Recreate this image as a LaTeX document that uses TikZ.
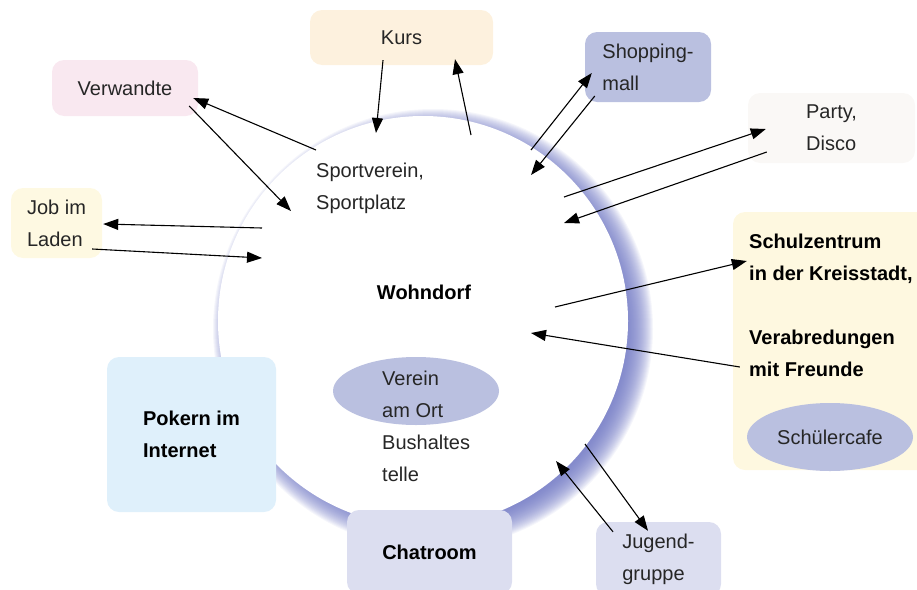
\documentclass[tikz,border=0pt]{standalone}
\usepackage{fontspec}
\setmainfont{Liberation Sans}
\usetikzlibrary{positioning,calc,shapes.geometric,arrows.meta}
\pgfdeclarelayer{background}
\pgfsetlayers{background,main}
\definecolor{kursc}{HTML}{FDF1DE}
\definecolor{verwc}{HTML}{F9E8F0}
\definecolor{shopc}{HTML}{BAC0E0}
\definecolor{partyc}{HTML}{FAF8F6}
\definecolor{jobc}{HTML}{FEF9E2}
\definecolor{schulc}{HTML}{FEF8E0}
\definecolor{pokerc}{HTML}{DFF0FB}
\definecolor{chatc}{HTML}{DCDEF0}
\definecolor{ovalc}{HTML}{BAC0E0}
\definecolor{glowc}{HTML}{6C74C2}

\begin{document}
\begin{tikzpicture}[x=1pt,y=-1pt,
	every node/.style={font=\fontsize{20pt}{32pt}\selectfont, text=black!85},
	boldtext/.style={font=\fontsize{20pt}{32pt}\selectfont\bfseries, text=black},
	roundbox/.style={rectangle, rounded corners=12pt, inner sep=0pt, align=left},
	ovalnode/.style={ellipse, fill=ovalc, inner sep=0pt, minimum width=166pt, minimum height=68pt},
	pfeil/.style={-{Triangle[length=15pt,width=11pt]}, line width=1.1pt},
	]
	\useasboundingbox (0,0) rectangle (917,589);
	%Circle
	\coordinate (mitte) at (423,321);
	\node[circle, fill=white, minimum size=410pt, inner sep=0pt] (wohn) at (mitte) {};
	\begin{pgfonlayer}{background}
		\foreach \i in {0,...,25}
			\fill[glowc, opacity=0.065] ($(mitte)+(10,8)$) circle ({220-\i});
	\end{pgfonlayer}
	
	%Nodes
	\node[roundbox, fill=kursc, minimum width=183pt, minimum height=55pt] (kurs) at (401.5,37.5) {Kurs};
	\node[roundbox, fill=verwc, minimum width=146pt, minimum height=56pt] (verw) at (125,88) {Verwandte};
	\node[roundbox, fill=shopc, minimum width=126pt, minimum height=70pt] (shop) at (648,67) {Shopping-\\mall};
	\node[roundbox, fill=partyc, minimum width=167pt, minimum height=70pt] (party) at (831.5,128) {Party,\\Disco};
	\node[roundbox, fill=jobc, minimum width=91pt, minimum height=70pt] (job) at (56.5,223) {Job im\\Laden};
	\node[roundbox, fill=schulc, minimum width=197pt, minimum height=258pt] (schul) at (831.5,341) {};
	\node[roundbox, fill=pokerc, minimum width=169pt, minimum height=155pt, boldtext] (poker) at (191.5,434.5) {Pokern im\\Internet};
	\node[roundbox, fill=chatc, minimum width=165pt, minimum height=84pt, boldtext] (chat) at (429.5,552) {Chatroom};
	\node[roundbox, fill=chatc, minimum width=125pt, minimum height=74pt] (jug) at (658.5,559) {Jugend-\\gruppe};
	
	\node[boldtext, align=left, anchor=north west, inner sep=0pt] (schultext) at (749,234) {Schulzentrum\\in der Kreisstadt,\\[32pt]Verabredungen\\mit Freunde};
	\node[ovalnode] (cafe) at (830,437) {Schülercafe};
	\node[ovalnode] (verein) at (416,391) {};
	\node[align=left, anchor=west, inner sep=0pt] (vereintext) at (382,426) {Verein\\am Ort\\Bushaltes\\telle};
	\node[boldtext] (dorf) at (424,292) {Wohndorf};
	\node[align=left, anchor=west, inner sep=0pt] (sport) at (316,188) {Sportverein,\\Sportplatz};
	
	%Ends in the circle
	\coordinate (kursin) at (376,133);
	\coordinate (kursout) at (471,135);
	\coordinate (verwout) at (316,150);
	\coordinate (verwin) at (291,211);
	\coordinate (jobout) at (262,228);
	\coordinate (jobin) at (262,258);
	\coordinate (shopout) at (531,150);
	\coordinate (shopin) at (531,175);
	\coordinate (partyout) at (564,197);
	\coordinate (partyin) at (564,223);
	\coordinate (schulout) at (555,307);
	\coordinate (schulin) at (531,333);
	\coordinate (jugout) at (585,444);
	\coordinate (jugin) at (556,461);
	
	%Arrows
	\draw[pfeil] ($(kurs.south)+(-18.5,-5)$) -- (kursin);
	\draw[pfeil] (kursout) -- ($(kurs.south)+(53.5,-6)$);
	\draw[pfeil] (verwout) -- ($(verw.east)+(-5,10)$);
	\draw[pfeil] ($(verw.east)+(-9,18)$) -- (verwin);
	\draw[pfeil] (jobout) -- ($(job.east)+(1,1)$);
	\draw[pfeil] ($(job.east)+(-10,26)$) -- (jobin);
	\draw[pfeil] (shopout) -- ($(shop.west)+(7,6)$);
	\draw[pfeil] ($(shop.west)+(10,29)$) -- (shopin);
	\draw[pfeil] (partyout) -- ($(party.west)+(18,1)$);
	\draw[pfeil] ($(party.west)+(19,24)$) -- (partyin);
	\draw[pfeil] (schulout) -- ($(schul.west)+(14,-80)$);
	\draw[pfeil] ($(schul.west)+(7,26)$) -- (schulin);
	\draw[pfeil] (jugout) -- ($(jug.north)+(-10.5,9)$);
	\draw[pfeil] ($(jug.north)+(-45.5,10)$) -- (jugin);
\end{tikzpicture}
\end{document}
